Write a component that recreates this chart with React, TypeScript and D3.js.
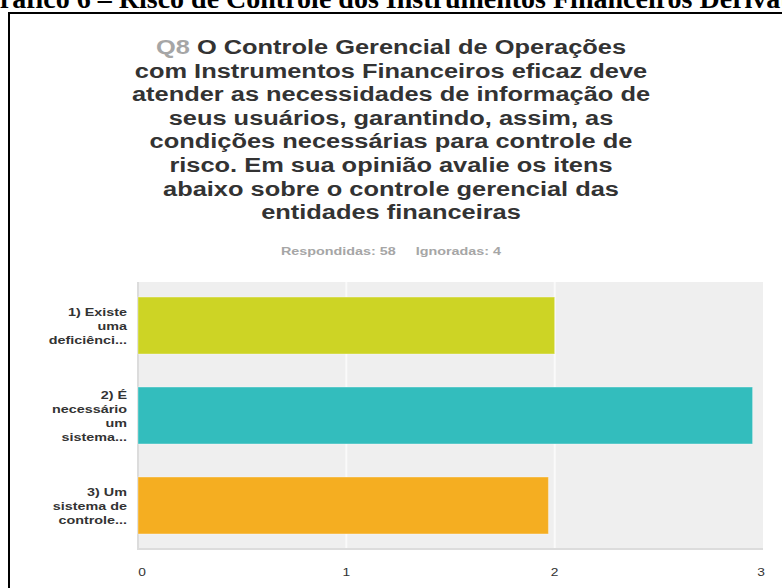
import React, { useEffect, useRef } from "react";
import * as d3 from "d3";

const caption = "Gráfico 6 – Risco de Controle dos Instrumentos Financeiros Derivativos";
const questionTag = "Q8";
const titleLines = [
  "O Controle Gerencial de Operações",
  "com Instrumentos Financeiros eficaz deve",
  "atender as necessidades de informação de",
  "seus usuários, garantindo, assim, as",
  "condições necessárias para controle de",
  "risco. Em sua opinião avalie os itens",
  "abaixo sobre o controle gerencial das",
  "entidades financeiras",
];
const answeredText = "Respondidas: 58";
const skippedText = "Ignoradas: 4";

const categories = ["item1", "item2", "item3"];
const categoryLines = [
  ["1) Existe", "uma", "deficiênci..."],
  ["2) É", "necessário", "um", "sistema..."],
  ["3) Um", "sistema de", "controle..."],
];
const values = [2.0, 2.95, 1.97];
const barColors = ["#cdd425", "#33bdbd", "#f5ae21"];
const xTicks = [0, 1, 2, 3];

const W = 782;
const H = 588;
const SX = 1.25; // the source screenshot is stretched horizontally

const App = () => {
  const svgRef = useRef<SVGSVGElement | null>(null);

  useEffect(() => {
    const svg = d3.select(svgRef.current);
    svg.selectAll("*").remove();

    const plot = { left: 138, right: 763, top: 282, bottom: 549 };

    const x = d3.scaleLinear().domain([0, 3]).range([plot.left, plot.right]);
    const y = d3.scaleBand()
      .domain(categories)
      .range([plot.top, plot.bottom])
      .paddingInner(0.367)
      .paddingOuter(0.167);

    svg.append("rect").attr("width", W).attr("height", H).attr("fill", "#ffffff");

    // document caption, mostly cut off at the top
    svg.append("text")
      .attr("x", -22)
      .attr("y", 8)
      .attr("font-family", "'Liberation Serif', 'Times New Roman', serif")
      .attr("font-weight", "bold")
      .attr("font-size", 28)
      .attr("fill", "#000")
      .text(caption);

    // frame of the figure
    svg.append("line").attr("x1", 8).attr("x2", W).attr("y1", 13).attr("y2", 13)
      .attr("stroke", "#000").attr("stroke-width", 2);
    svg.append("line").attr("x1", 9).attr("x2", 9).attr("y1", 12).attr("y2", H)
      .attr("stroke", "#000").attr("stroke-width", 2);

    const font = "'Liberation Sans', Arial, Helvetica, sans-serif";
    const cx = 391;

    // title
    titleLines.forEach((line, i) => {
      const t = svg.append("text")
        .attr("transform", `translate(${cx},${54 + i * 23.6}) scale(1.27,1)`)
        .attr("text-anchor", "middle")
        .attr("font-family", font)
        .attr("font-weight", "bold")
        .attr("font-size", 20)
        .attr("fill", "#333333");
      if (i === 0) {
        t.append("tspan").attr("fill", "#a6a6a6").text(questionTag + " ");
      }
      t.append("tspan").text(line);
    });

    // answered / skipped
    svg.append("text")
      .attr("transform", `translate(${cx},255) scale(${SX},1)`)
      .attr("text-anchor", "middle")
      .attr("font-family", font)
      .attr("font-weight", "bold")
      .attr("font-size", 11.5)
      .attr("fill", "#a6a6a6")
      .attr("xml:space", "preserve")
      .text(`${answeredText}     ${skippedText}`);

    // plot background
    svg.append("rect")
      .attr("x", plot.left)
      .attr("y", plot.top)
      .attr("width", plot.right - plot.left)
      .attr("height", plot.bottom - plot.top)
      .attr("fill", "#efefef");

    // grid lines
    svg.selectAll("line.grid")
      .data(xTicks.slice(1, -1))
      .join("line")
      .attr("class", "grid")
      .attr("x1", (d) => x(d))
      .attr("x2", (d) => x(d))
      .attr("y1", plot.top)
      .attr("y2", plot.bottom)
      .attr("stroke", "#fafafa")
      .attr("stroke-width", 2);

    // axis lines
    svg.append("line")
      .attr("x1", plot.left).attr("x2", plot.left)
      .attr("y1", plot.top).attr("y2", plot.bottom + 1)
      .attr("stroke", "#dcdcdc").attr("stroke-width", 2);
    svg.append("line")
      .attr("x1", plot.left).attr("x2", plot.right)
      .attr("y1", plot.bottom).attr("y2", plot.bottom)
      .attr("stroke", "#dcdcdc").attr("stroke-width", 2);

    // bars
    svg.selectAll("rect.bar")
      .data(values)
      .join("rect")
      .attr("class", "bar")
      .attr("x", x(0))
      .attr("y", (_, i) => y(categories[i]) ?? 0)
      .attr("width", (d) => x(d) - x(0))
      .attr("height", y.bandwidth())
      .attr("fill", (_, i) => barColors[i])
      .attr("stroke", "rgba(255,255,255,0.35)")
      .attr("stroke-width", 1);

    // category labels
    categoryLines.forEach((lines, i) => {
      const mid = (y(categories[i]) ?? 0) + y.bandwidth() / 2;
      const step = 14;
      lines.forEach((ln, j) => {
        svg.append("text")
          .attr("transform", `translate(127,${mid + (j - (lines.length - 1) / 2) * step}) scale(${SX},1)`)
          .attr("dy", "0.35em")
          .attr("text-anchor", "end")
          .attr("font-family", font)
          .attr("font-weight", "bold")
          .attr("font-size", 11.5)
          .attr("fill", "#333333")
          .text(ln);
      });
    });

    // x tick labels
    svg.selectAll("text.tick")
      .data(xTicks)
      .join("text")
      .attr("class", "tick")
      .attr("transform", (d) => `translate(${x(d) + (d === 0 ? 4 : d === 3 ? -2 : 0)},576) scale(${SX},1)`)
      .attr("text-anchor", "middle")
      .attr("font-family", font)
      .attr("font-size", 11)
      .attr("fill", "#333333")
      .text((d) => d3.format("d")(d));
  }, []);

  return (
    <svg
      ref={svgRef}
      width={W}
      height={H}
      style={{ position: "absolute", left: 0, top: 0, display: "block" }}
      role="img"
      aria-label="Gráfico de barras horizontais"
    />
  );
};

export default App;
